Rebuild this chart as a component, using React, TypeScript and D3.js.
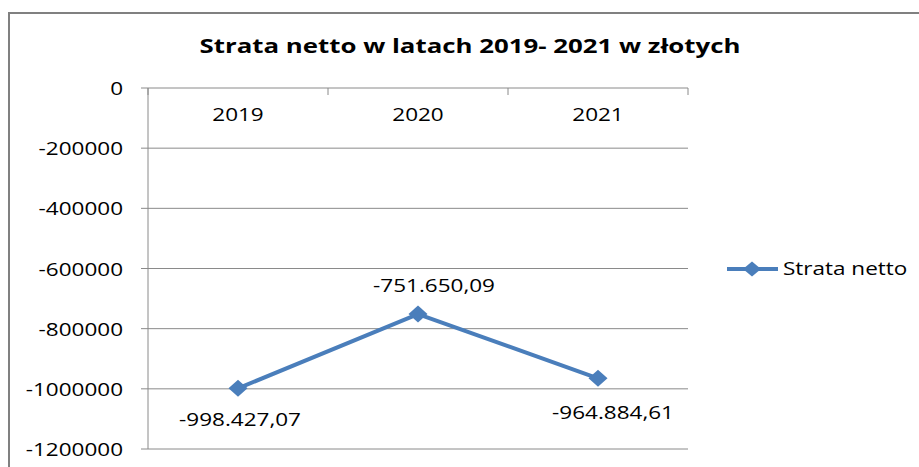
import React from "react";
import * as d3 from "d3";

// ---- data ----
const years: string[] = ["2019", "2020", "2021"];
const strataNetto: number[] = [-998427.07, -751650.09, -964884.61];
const yTicks: number[] = [0, -200000, -400000, -600000, -800000, -1000000, -1200000];
const seriesName = "Strata netto";
const title = "Strata netto w latach 2019- 2021 w złotych";

// label placement relative to the point (dx, dy baseline)
const labelPlacement: [number, number][] = [
  [2, 38],
  [16, -22],
  [15, 41],
];

const W = 919;
const H = 467;
const SX = 1.25; // horizontal stretch of text as in the reference
const FONT = "'Open Sans', 'DejaVu Sans', sans-serif";
const BLUE = "#4a7ebb";
const GRID = "#8a8a8a";

const plf = d3.formatLocale({
  decimal: ",",
  thousands: ".",
  grouping: [3],
  currency: ["", ""],
  minus: "-",
});
const fmtLabel = plf.format(",.2f");
const fmtTick = plf.format("d");

function diamond(cx: number, cy: number, rx: number, ry: number) {
  return `M${cx},${cy - ry}L${cx + rx},${cy}L${cx},${cy + ry}L${cx - rx},${cy}Z`;
}

export default function App() {
  const x = d3.scaleBand<string>().domain(years).range([148, 688]).padding(0);
  const y = d3.scaleLinear().domain([0, -1200000]).range([88, 449]);
  const cx = (d: string) => (x(d) as number) + x.bandwidth() / 2;

  const line = d3
    .line<number>()
    .x((_, i) => cx(years[i]))
    .y((v) => y(v));

  const boundaries = [...years.map((d) => x(d) as number), x.range()[1]];

  return (
    <svg
      width={W}
      height={H}
      style={{ position: "absolute", left: 0, top: 0, background: "#fff" }}
    >
      <rect x={0} y={0} width={W} height={H} fill="#fff" />
      {/* outer border */}
      <rect x={9} y={13} width={W + 20} height={H + 20} fill="none" stroke="#808080" strokeWidth={2} />

      {/* title */}
      <text
        x={470}
        y={53}
        textAnchor="middle"
        fontFamily={FONT}
        fontWeight="bold"
        fontSize={20}
        textLength={541}
        lengthAdjust="spacingAndGlyphs"
        fill="#000"
      >
        {title}
      </text>

      {/* gridlines + y ticks */}
      {yTicks.map((t) => (
        <g key={t}>
          <line x1={141} x2={688} y1={y(t)} y2={y(t)} stroke={GRID} strokeWidth={1} />
          <text
            transform={`translate(123,${y(t) + 7}) scale(${SX},1)`}
            textAnchor="end"
            fontFamily={FONT}
            fontSize={18}
            fill="#000"
          >
            {fmtTick(t)}
          </text>
        </g>
      ))}

      {/* y axis */}
      <line x1={148} x2={148} y1={y(0)} y2={y(-1200000)} stroke={GRID} strokeWidth={1} />

      {/* x axis tick marks (axis at zero, top) */}
      {boundaries.map((b, i) => (
        <line key={i} x1={b} x2={b} y1={y(0)} y2={y(0) + 7} stroke={GRID} strokeWidth={1} />
      ))}
      {years.map((d) => (
        <text
          key={d}
          transform={`translate(${cx(d)},${121}) scale(${SX},1)`}
          textAnchor="middle"
          fontFamily={FONT}
          fontSize={18}
          fill="#000"
        >
          {d}
        </text>
      ))}

      {/* series line */}
      <path d={line(strataNetto) || ""} fill="none" stroke={BLUE} strokeWidth={4} strokeLinejoin="round" />
      {strataNetto.map((v, i) => (
        <path key={i} d={diamond(cx(years[i]), y(v), 9.5, 8.5)} fill={BLUE} />
      ))}

      {/* data labels */}
      {strataNetto.map((v, i) => (
        <text
          key={i}
          transform={`translate(${cx(years[i]) + labelPlacement[i][0]},${y(v) + labelPlacement[i][1]}) scale(${SX},1)`}
          textAnchor="middle"
          fontFamily={FONT}
          fontSize={18}
          fill="#000"
        >
          {fmtLabel(v)}
        </text>
      ))}

      {/* legend */}
      <line x1={727} x2={778} y1={269} y2={269} stroke={BLUE} strokeWidth={4} />
      <path d={diamond(752, 269, 9, 7.5)} fill={BLUE} />
      <text
        transform={`translate(783,275) scale(${SX},1)`}
        fontFamily={FONT}
        fontSize={18}
        fill="#000"
      >
        {seriesName}
      </text>
    </svg>
  );
}
